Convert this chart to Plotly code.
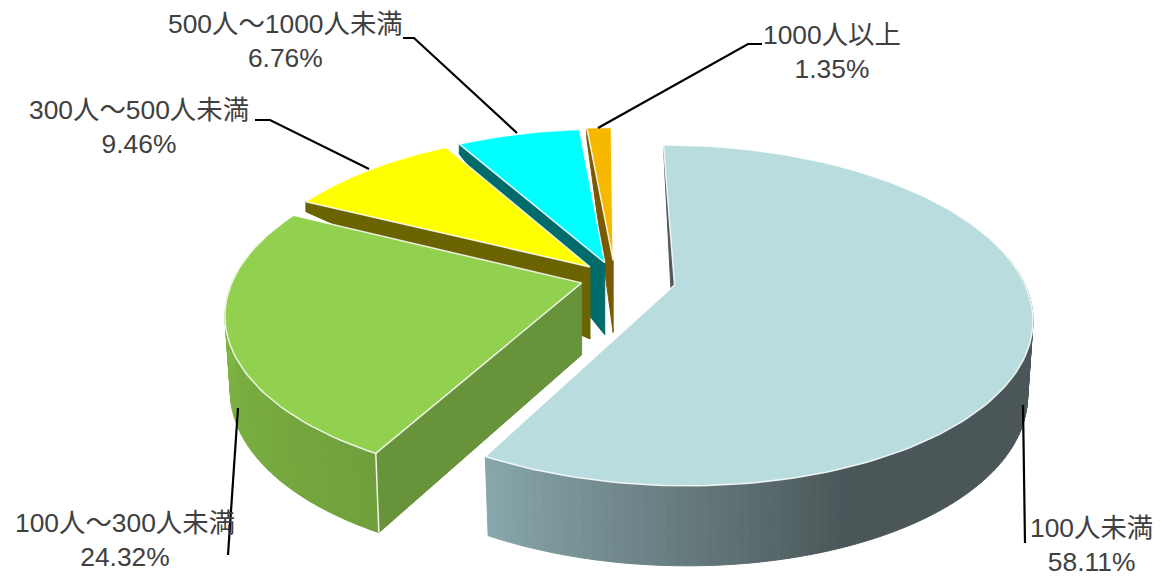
import math
import plotly.graph_objects as go

# Employee-size breakdown
categories = ["100人未満", "100人～300人未満", "300人～500人未満", "500人～1000人未満", "1000人以上"]
shares = [58.11, 24.32, 9.46, 6.76, 1.35]

# Per-slice styling and explosion
top_colors = ["#B9DCDF", "#92D050", "#FFFF00", "#00FFFF", "#F7B900"]
wall_colors = ["#50595C", "#67933A", "#6B6200", "#006B6B", "#7A5A00"]
side_from = [(0x88, 0xA7, 0xAC), (0x70, 0xA0, 0x3C)]
side_to = [(0x4A, 0x56, 0x58), (0x7F, 0xB5, 0x43)]
side_rate = [2.5, 1.35]
pulls = [0.175, 0.10, 0.10, 0.10, 0.11]

# Projection of the pie disc on to the page
CX, CY = 615, 278
A, B, K = 348, 162.5, 0.177
START = -0.4
WALL_APEX = 72
WALL_RIM = 10


def project(u, v):
    w = 1 + K * v
    return CX + A * u / w, CY - B * v / w


def rim_point(apex, theta):
    t = math.radians(theta)
    return project(apex[0] + math.sin(t), apex[1] + math.cos(t))


def side_depth(theta):
    c = math.cos(math.radians(theta))
    return 74 + 6 * max(-c, 0)


def lower(p, apex_xy, depth):
    return apex_xy[0] + 0.985 * (p[0] - apex_xy[0]), p[1] + depth


def mix(a, b, f):
    return "rgb(%d,%d,%d)" % tuple(round(a[i] + (b[i] - a[i]) * f) for i in range(3))


fig = go.Figure()


def poly(points, fill, line=None, width=1):
    xs = [p[0] for p in points] + [points[0][0]]
    ys = [p[1] for p in points] + [points[0][1]]
    fig.add_trace(go.Scatter(
        x=xs, y=ys, mode="lines", fill="toself", fillcolor=fill,
        line=dict(color=line or fill, width=width), hoverinfo="skip", showlegend=False,
    ))


# Slice angles, clockwise from the top
edges = [START]
for s in shares:
    edges.append(edges[-1] + s * 3.6)

# Paint from the back of the pie to the front
for i in [4, 3, 2, 1, 0]:
    t0, t1 = edges[i], edges[i + 1]
    mid = math.radians((t0 + t1) / 2)
    apex = (pulls[i] * math.sin(mid), pulls[i] * math.cos(mid))
    ax, ay = project(*apex)

    # Outer side, drawn as narrow strips to carry the gradient
    if i < 2:
        lo = max(t0, 80) if i == 0 else t0
        hi = t1 if i == 0 else min(t1, 285)
        n = 90 if i == 0 else 40
        step = (hi - lo) / n
        for j in range(n):
            a, b = lo + j * step, lo + (j + 1) * step
            pa, pb = rim_point(apex, a), rim_point(apex, b)
            f = (j + 0.5) / n
            # the dark end of the large slice sits on its right-hand side
            f = 1 - f if i == 0 else f
            col = mix(side_from[i], side_to[i], min(1, f * side_rate[i]))
            poly([pa, pb, lower(pb, (ax, ay), side_depth(b)), lower(pa, (ax, ay), side_depth(a))], col)

    # Radial wall: back walls taper towards the rim, front walls keep their height
    rim = rim_point(apex, t0)
    if math.cos(math.radians(t0)) < 0:
        rim_low = lower(rim, (ax, ay), side_depth(t0))
    else:
        rim_low = (rim[0], rim[1] + WALL_RIM)
    poly([rim, (ax, ay), (ax, ay + WALL_APEX), rim_low], wall_colors[i])
    if i == 1:
        # bright seam where the wall meets the curved side
        fig.add_trace(go.Scatter(
            x=[rim[0], rim_low[0]], y=[rim[1], rim_low[1]],
            mode="lines", line=dict(color="#F2F7EA", width=1.5), hoverinfo="skip", showlegend=False,
        ))

    # Top face
    n = max(8, int((t1 - t0) / 1.5))
    face = [(ax, ay)] + [rim_point(apex, t0 + (t1 - t0) * j / n) for j in range(n + 1)]
    poly(face, top_colors[i], line="rgba(255,255,255,0.85)", width=1.5)

# Leader lines from the labels to their slices
leaders = [
    [(1023, 405), (1025, 543)],
    [(238, 408), (228, 555)],
    [(255, 120), (270, 120), (369, 169)],
    [(403, 38), (414, 38), (517, 133)],
    [(598, 128), (748, 44), (762, 44)],
]
for path in leaders:
    fig.add_trace(go.Scatter(
        x=[p[0] for p in path], y=[p[1] for p in path], mode="lines",
        line=dict(color="#000000", width=2.2), hoverinfo="skip", showlegend=False,
    ))

# Labels: name on the first line, share on the second
label_centres = [(1091, 545), (125, 540), (139, 127), (285, 41), (832, 52)]
for name, share, (x, y) in zip(categories, shares, label_centres):
    fig.add_annotation(
        x=x, y=y, xref="x", yref="y", text=f"{name}<br>{share:.2f}%", showarrow=False,
        xanchor="center", yanchor="middle", align="center",
        font=dict(family="Liberation Sans, Noto Sans CJK JP", size=26.4, color="#404040"),
    )

fig.update_layout(
    width=1169, height=576, margin=dict(l=0, r=0, t=0, b=0),
    paper_bgcolor="white", plot_bgcolor="white", showlegend=False,
    xaxis=dict(range=[0, 1169], visible=False, fixedrange=True),
    yaxis=dict(range=[576, 0], visible=False, fixedrange=True),
)
fig.write_html("out.html", config=dict(displayModeBar=False))
